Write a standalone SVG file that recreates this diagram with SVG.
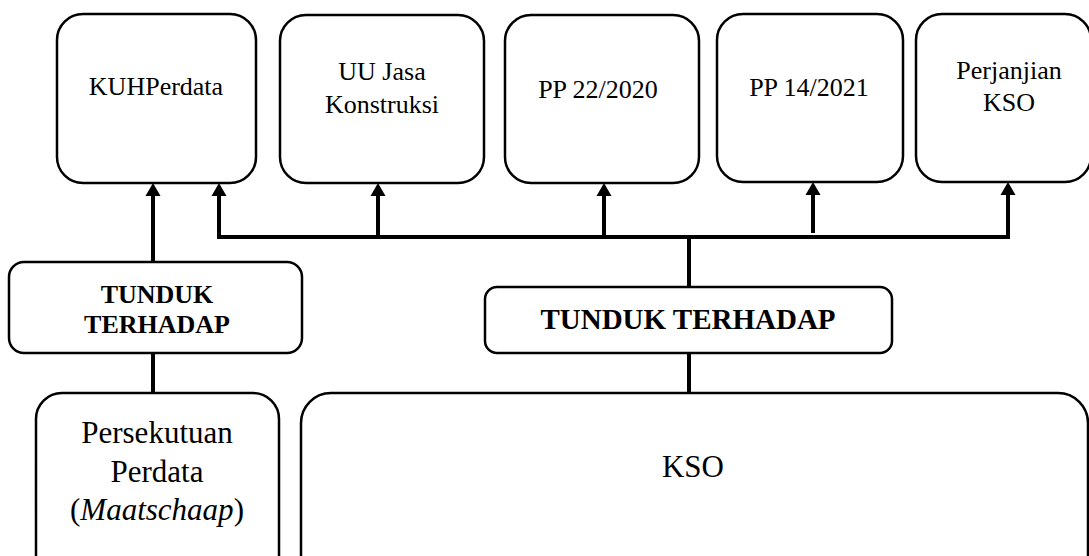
<svg xmlns="http://www.w3.org/2000/svg" width="1089" height="556" viewBox="0 0 1089 556">
  <style>
    .box { fill: #fff; stroke: #000; stroke-width: 2.5; }
    text { font-family: 'Liberation Serif', 'Times New Roman', serif; fill: #000; text-anchor: middle; }
    .b { font-weight: bold; }
    .wire { fill: none; stroke: #000; stroke-width: 4; }
  </style>
  <defs>
    <path id="head" d="M-7.5,13 L0,0 L7.5,13 z" fill="#000"/>
  </defs>

  <g id="kuhperdata">
    <rect class="box" x="57" y="14" width="199" height="169" rx="26"/>
    <text x="156" y="95" font-size="26">KUHPerdata</text>
  </g>
  <g id="uu-jasa-konstruksi">
    <rect class="box" x="280" y="15" width="204" height="168" rx="26"/>
    <text x="382" y="80" font-size="26">UU Jasa</text>
    <text x="382" y="113" font-size="26">Konstruksi</text>
  </g>
  <g id="pp-22-2020">
    <rect class="box" x="505" y="15" width="194" height="168" rx="26"/>
    <text x="598" y="98" font-size="26">PP 22/2020</text>
  </g>
  <g id="pp-14-2021">
    <rect class="box" x="717" y="14" width="186" height="168" rx="26"/>
    <text x="809" y="96" font-size="26">PP 14/2021</text>
  </g>
  <g id="perjanjian-kso">
    <rect class="box" x="916" y="14" width="175" height="168" rx="26"/>
    <text x="1009" y="79" font-size="26">Perjanjian</text>
    <text x="1009" y="111" font-size="26">KSO</text>
  </g>

  <g id="tunduk-kiri">
    <rect class="box" x="9" y="262" width="293" height="91" rx="15"/>
    <text class="b" x="157" y="303" font-size="26">TUNDUK</text>
    <text class="b" x="157" y="333" font-size="26">TERHADAP</text>
  </g>
  <g id="tunduk-kanan">
    <rect class="box" x="485" y="287" width="407" height="66" rx="12"/>
    <text class="b" x="688" y="329" font-size="29">TUNDUK TERHADAP</text>
  </g>

  <g id="persekutuan-perdata">
    <rect class="box" x="36" y="393" width="243" height="200" rx="26"/>
    <text x="157" y="443" font-size="31">Persekutuan</text>
    <text x="157" y="482" font-size="31">Perdata</text>
    <text x="157" y="520" font-size="31">(<tspan font-style="italic">Maatschaap</tspan>)</text>
  </g>
  <g id="kso">
    <rect class="box" x="301" y="393" width="787" height="200" rx="30"/>
    <text x="693" y="477" font-size="31">KSO</text>
  </g>

  <g id="connectors">
    <!-- left branch: Persekutuan to TUNDUK to KUHPerdata -->
    <line class="wire" x1="153" y1="393" x2="153" y2="353"/>
    <line class="wire" x1="153" y1="262" x2="153" y2="194"/>
    <use href="#head" x="153" y="183"/>
    <!-- right branch: KSO to TUNDUK to bus -->
    <line class="wire" x1="689" y1="393" x2="689" y2="353"/>
    <line class="wire" x1="689" y1="287" x2="689" y2="237"/>
    <!-- bus with arrows up to each rule box -->
    <polyline class="wire" points="219,194 219,237 1010,237"/>
    <use href="#head" x="219" y="183"/>
    <line class="wire" x1="378" y1="237" x2="378" y2="194"/>
    <use href="#head" x="378" y="183"/>
    <line class="wire" x1="604" y1="237" x2="604" y2="194"/>
    <use href="#head" x="604" y="183"/>
    <line class="wire" x1="813" y1="233" x2="813" y2="194"/>
    <use href="#head" x="813" y="182"/>
    <line class="wire" x1="1008" y1="237" x2="1008" y2="194"/>
    <use href="#head" x="1008" y="182"/>
  </g>
</svg>
